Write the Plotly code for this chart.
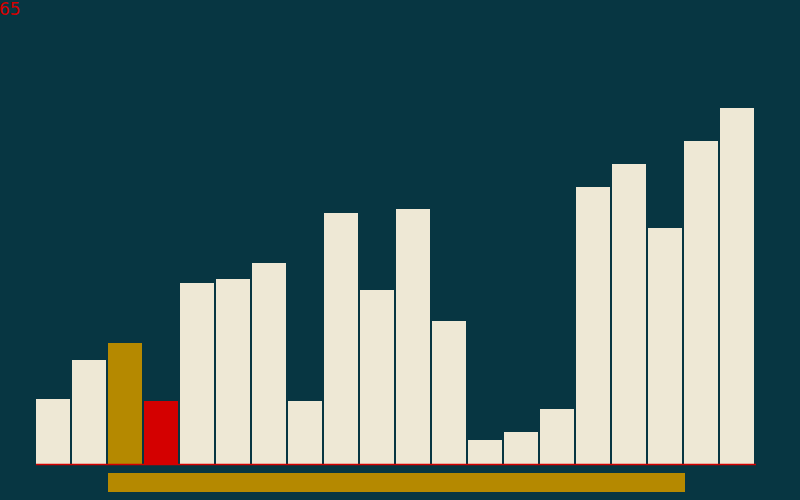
import plotly.graph_objects as go

values = [65, 104, 121, 63, 181, 185, 201, 63, 251, 174, 255, 143, 24, 32, 55, 277, 300, 236, 323, 356]
highlight_gold = [2]
highlight_red = [3]
range_lo, range_hi = 2, 17
label_text = "65"

BG = "#073642"
CREAM = "#EEE8D5"
GOLD = "#B58900"
RED = "#D40000"

half = 17 / 36
idx = list(range(len(values)))
colors = [GOLD if i in highlight_gold else RED if i in highlight_red else CREAM for i in idx]

fig = go.Figure(go.Bar(x=idx, y=values, marker=dict(color=colors, line=dict(width=0)),
                       width=2 * half, hoverinfo="skip"))

fig.add_shape(type="rect", xref="x", yref="y",
              x0=range_lo - half, x1=range_hi + 1 - half + 1/36,
              y0=-28, y1=-9, fillcolor=GOLD, line=dict(width=0), layer="below")
fig.add_shape(type="line", xref="x", yref="y",
              x0=-half, x1=len(values) - 1 + half + 2/36, y0=-0.5, y1=-0.5,
              line=dict(color=RED, width=1.5))

fig.add_annotation(text=label_text, xref="paper", yref="paper", x=0, y=1,
                   xanchor="left", yanchor="top", showarrow=False, xshift=-3, yshift=3,
                   font=dict(family="DejaVu Sans", size=17, color=RED))

fig.update_layout(
    width=800, height=500, margin=dict(l=0, r=0, t=0, b=0),
    paper_bgcolor=BG, plot_bgcolor=BG, showlegend=False,
    xaxis=dict(range=[-53/36, 747/36], visible=False, fixedrange=True),
    yaxis=dict(range=[-36, 464], visible=False, fixedrange=True),
    bargap=0,
)
fig.write_html("out.html", config={"displayModeBar": False})
